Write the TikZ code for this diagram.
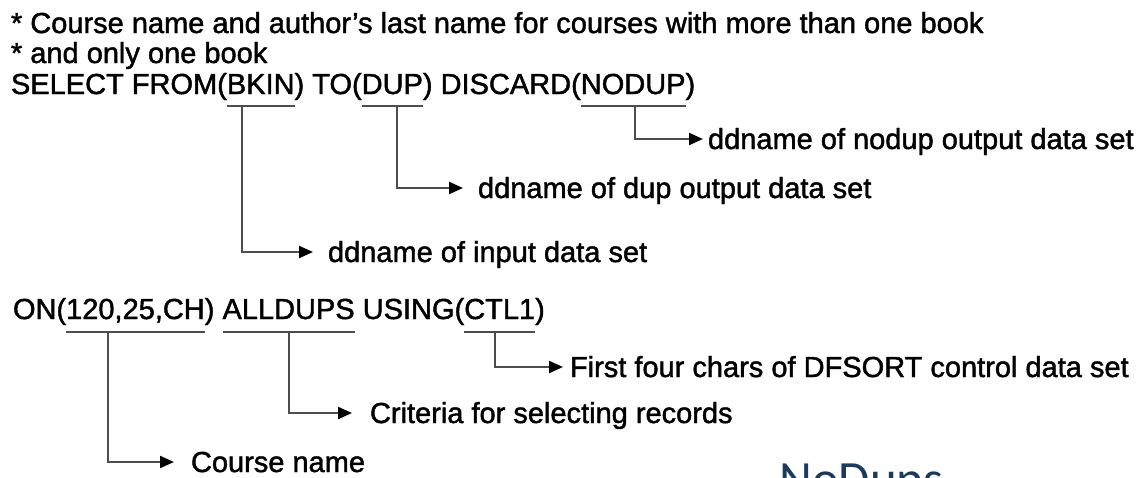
\documentclass[tikz,border=0pt]{standalone}
\usepackage{fontspec}
\setmainfont{Liberation Sans}
\newfontfamily\codefont{Liberation Sans}[FakeBold=1.5]
\newfontfamily\titlefont{Carlito}
\usetikzlibrary{arrows.meta,calc}
\definecolor{leader}{HTML}{4D4D4D}
\definecolor{navy}{HTML}{1B3A5C}

\begin{document}
\begin{tikzpicture}[x=1pt,y=-1pt,
  code/.style={anchor=base west, inner sep=0pt, outer sep=0pt,
    font=\codefont\fontsize{29}{34}\selectfont},
  note/.style={code, text height=20pt, text depth=0pt},
  uline/.style={draw=leader, line width=2.6pt},
  lead/.style={draw=leader, line width=2.2pt,
    -{Triangle[length=14pt,width=12pt,color=black]}},
]
\useasboundingbox[fill=white] (0,0) rectangle (1141,477);

% comment lines
\node[code] (c1) at (11,33) {* Course name and author’s last name for courses with more than one book};
\node[code] (c2) at (11,63) {* and only one book};

% SELECT statement, split so each operand can be underlined
\node[code] (s0) at (11,94) {SELECT FROM(};
\node[code] (bkin) at (s0.base east) {BKIN};
\node[code] (s1) at (bkin.base east) {) TO(};
\node[code] (dup) at (s1.base east) {DUP};
\node[code] (s2) at (dup.base east) {) DISCARD(};
\node[code] (nodup) at (s2.base east) {NODUP};
\node[code] (s3) at (nodup.base east) {)};

% ON / ALLDUPS / USING operands
\node[code] (o0) at (13,319) {ON(};
\node[code] (on) at (o0.base east) {120,25,CH};
\node[code] (o1) at (on.base east) {)\ \mbox{}};
\node[code] (alld) at (o1.base east) {ALLDUPS};
\node[code] (o2) at (alld.base east) {\ USING(};
\node[code] (ctl) at (o2.base east) {CTL1};
\node[code] (o3) at (ctl.base east) {)};

% explanations
\node[note] (nodupl) at (708,149) {ddname of nodup output data set};
\node[note] (dupl)   at (478,198) {ddname of dup output data set};
\node[note] (bkinl)  at (328,262) {ddname of input data set};
\node[note] (ctll)   at (570,377) {First four chars of DFSORT control data set};
\node[note] (alldl)  at (370,423) {Criteria for selecting records};
\node[note] (onl)    at (191,472) {Course name};

% underlines
\foreach \w/\d in {bkin/12, dup/12, nodup/12, on/13, alld/13, ctl/13}
  \draw[uline] ([yshift=-\d pt]\w.base west) -- ([yshift=-\d pt]\w.base east);

% leader points on the underlines
\coordinate (bkinu)  at ($(bkin.base west)!0.22!(bkin.base east)+(0,12)$);
\coordinate (dupu)   at ($(dup.base west)!0.58!(dup.base east)+(0,12)$);
\coordinate (nodupu) at ($(nodup.base west)!0.52!(nodup.base east)+(0,12)$);
\coordinate (onu)    at ($(on.base west)!0.30!(on.base east)+(0,13)$);
\coordinate (alldu)  at ($(alld.base west)!0.50!(alld.base east)+(0,13)$);
\coordinate (ctlu)   at ($(ctl.base west)!0.43!(ctl.base east)+(0,13)$);

% leaders
\draw[lead] (nodupu) |- ([xshift=-5pt]nodupl.west);
\draw[lead] (dupu)   |- ([xshift=-15pt]dupl.west);
\draw[lead] (bkinu)  |- ([xshift=-15pt]bkinl.west);
\draw[lead] (ctlu)   |- ([xshift=-7pt]ctll.west);
\draw[lead] (alldu)  |- ([xshift=-18pt]alldl.west);
\draw[lead] (onu)    |- ([xshift=-17pt]onl.west);

% slide title, cut by the lower edge
\begin{scope}
\clip (0,0) rectangle (1141,477);
\node[anchor=base west, inner sep=0pt, text=navy,
  font=\titlefont\fontsize{50.8}{60}\selectfont] (title) at (779,496) {NoDups};
\end{scope}
\end{tikzpicture}
\end{document}
